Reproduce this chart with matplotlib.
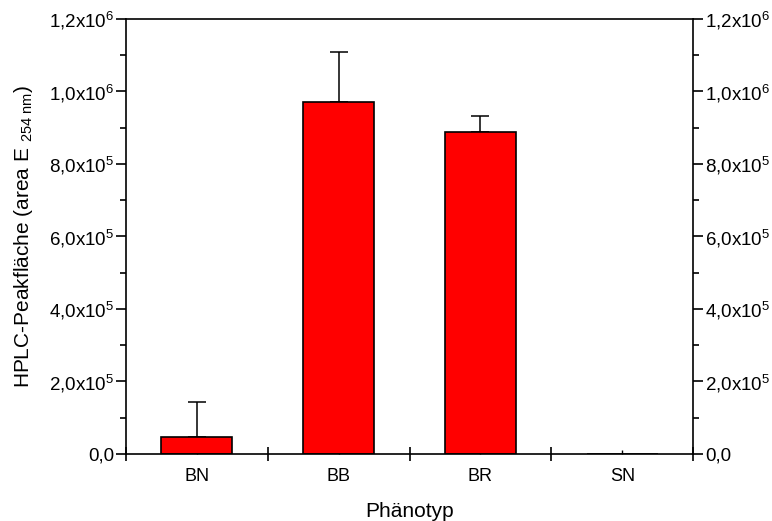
import numpy as np
import matplotlib
matplotlib.use("Agg")
import matplotlib.pyplot as plt
from matplotlib.ticker import FuncFormatter, FixedLocator, MultipleLocator

plt.rcParams['font.family'] = ['Liberation Sans', 'DejaVu Sans']
plt.rcParams['mathtext.fontset'] = 'custom'
plt.rcParams['mathtext.rm'] = 'Liberation Sans'
plt.rcParams['mathtext.it'] = 'Liberation Sans:italic'
plt.rcParams['mathtext.bf'] = 'Liberation Sans:bold'

# data
phenotypes = ['BN', 'BB', 'BR', 'SN']
peak_area = [4.7e4, 9.70e5, 8.87e5, 0.0]
peak_err = [9.7e4, 1.39e5, 4.6e4, 0.0]
y_max = 1.2e6


def sci_label(v, pos):
    if v == 0:
        return '0,0'
    exp = int(np.floor(np.log10(abs(v)) + 1e-9))
    mant = v / 10 ** exp
    return ('%.1f' % mant).replace('.', ',') + 'x10$^{%d}$' % exp


fig = plt.figure(figsize=(7.72, 5.21), dpi=100)
ax = fig.add_axes([0.163, 0.1286, 0.735, 0.835])

x = np.arange(1, len(phenotypes) + 1)
ax.bar(x, peak_area, width=0.5, color='#ff0000', edgecolor='black', linewidth=1.2, zorder=2)

# only the upper half of the error bar is shown
ax.errorbar(x[:3], peak_area[:3], yerr=[np.zeros(3), peak_err[:3]], fmt='none',
            ecolor='black', elinewidth=1.1, capsize=6.3, capthick=1.1, zorder=1)

ax.set_xlim(0.5, 4.5)
ax.set_ylim(0, y_max)

ax.xaxis.set_major_locator(FixedLocator([0.5, 1.5, 2.5, 3.5, 4.5]))
ax.xaxis.set_major_formatter(FuncFormatter(lambda v, p: ''))
ax.xaxis.set_minor_locator(FixedLocator(x))
ax.xaxis.set_minor_formatter(FuncFormatter(lambda v, p: phenotypes[int(round(v)) - 1]))
ax.tick_params(axis='x', which='major', direction='inout', length=10, width=1.2, top=False)
ax.tick_params(axis='x', which='minor', direction='in', length=3, width=1, top=False,
               labelsize=13, pad=10)

ax.yaxis.set_major_locator(MultipleLocator(2e5))
ax.yaxis.set_minor_locator(MultipleLocator(1e5))
ax.yaxis.set_major_formatter(FuncFormatter(sci_label))
ax.tick_params(axis='y', which='major', direction='out', length=7, width=1.2, pad=1.5,
               right=True, labelright=True, labelsize=13.5)
ax.tick_params(axis='y', which='minor', direction='out', length=4, width=1.2, right=True)

for s in ax.spines.values():
    s.set_linewidth(1.2)

ax.set_xlabel('Phänotyp', fontsize=15, labelpad=12)
ax.set_ylabel(r'HPLC-Peakfläche (area E $_{254\ \mathrm{nm}}$)', fontsize=15, labelpad=10)

fig.savefig('out.png', dpi=100)
